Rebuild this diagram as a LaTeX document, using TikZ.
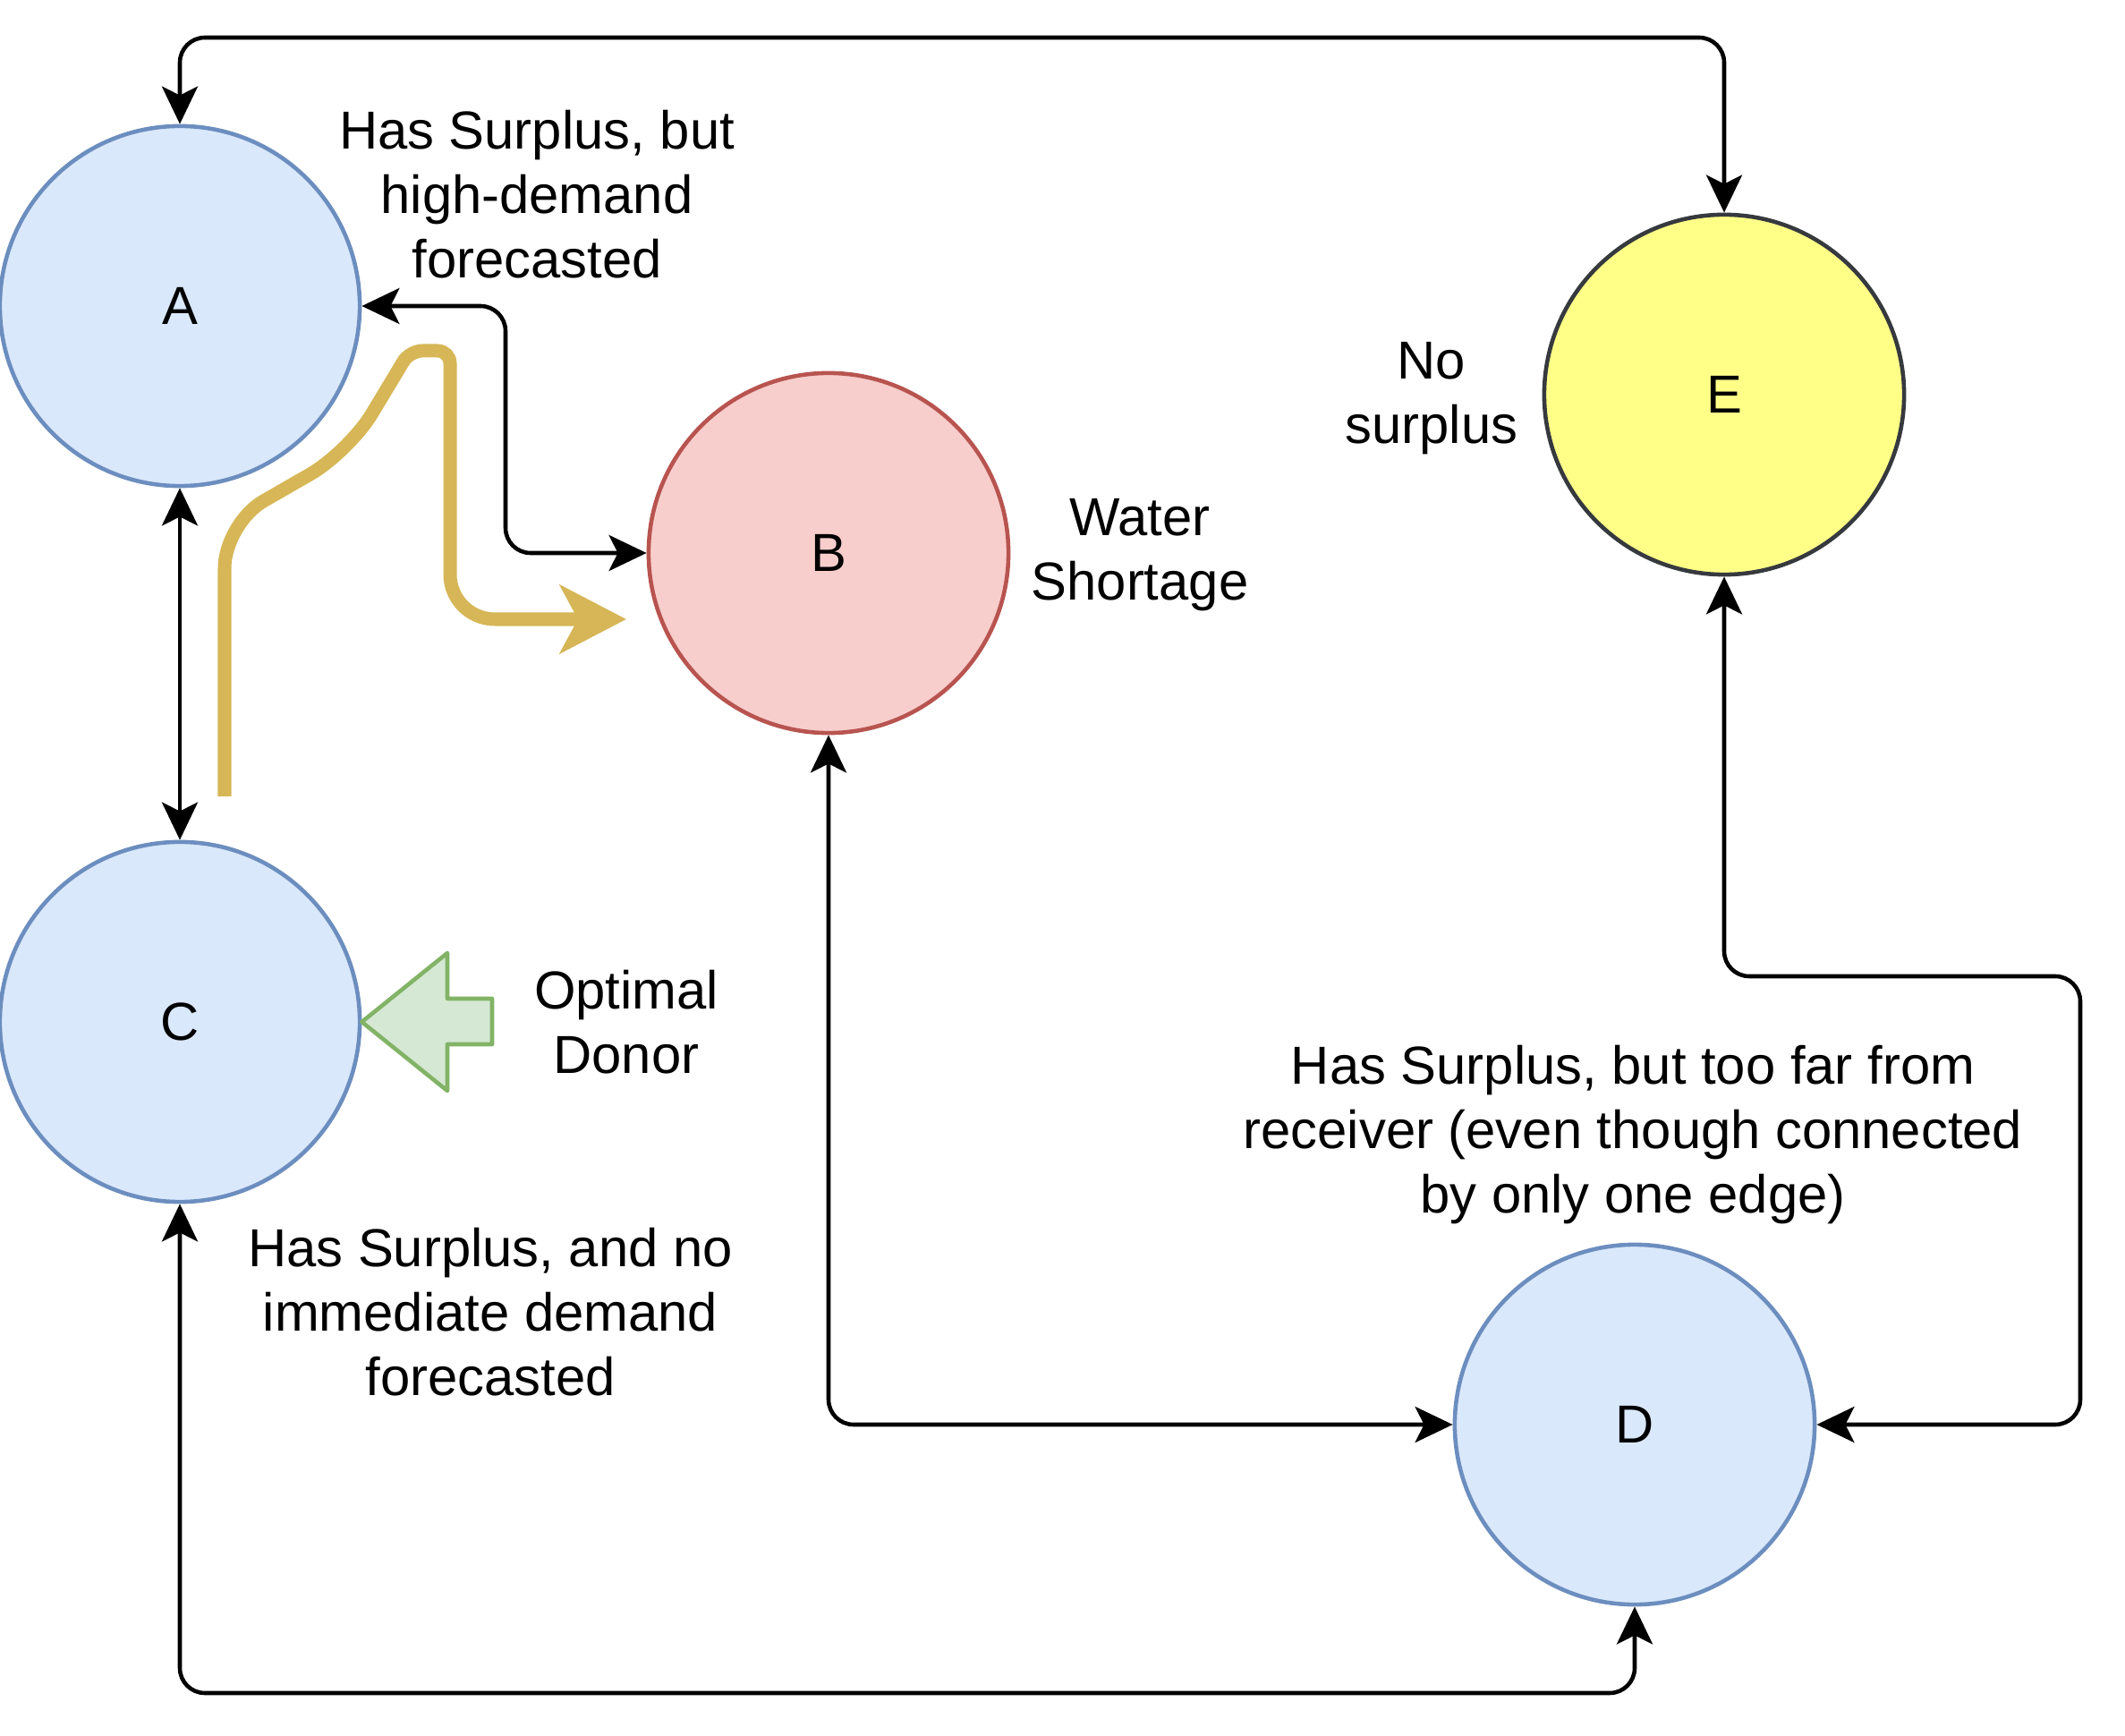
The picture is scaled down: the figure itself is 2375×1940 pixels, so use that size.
\documentclass[tikz,border=0pt]{standalone}
\usepackage{fontspec}
\setmainfont{Liberation Sans}
\usetikzlibrary{arrows.meta,positioning,calc}

\definecolor{surplusfill}{HTML}{DAE8FC}
\definecolor{surplusdraw}{HTML}{6C8EBF}
\definecolor{shortfill}{HTML}{F8CECC}
\definecolor{shortdraw}{HTML}{B85450}
\definecolor{nonefill}{HTML}{FFFF88}
\definecolor{nonedraw}{HTML}{36393D}
\definecolor{donorfill}{HTML}{D5E8D4}
\definecolor{donordraw}{HTML}{82B366}
\definecolor{flowcol}{HTML}{D6B656}

\begin{document}
\begin{tikzpicture}[x=0.01cm,y=-0.01cm,line width=1.3pt,font=\fontsize{17}{20.5}\selectfont,>={Stealth[length=0.42cm,width=0.4cm,inset=0.1cm]}]
\tikzstyle{tank}=[circle,draw,minimum size=4.02cm,inner sep=0pt]
  \tikzstyle{surplus}=[tank,fill=surplusfill,draw=surplusdraw]
  \tikzstyle{pipe}=[<->,rounded corners=0.28cm]
  \tikzstyle{remark}=[align=center,inner sep=0pt]
%
\useasboundingbox (0,0) rectangle (2375,1940);
%
\node[surplus] (A) at (201,342) {A};
  \node[surplus] (C) at (201,1142) {C};
  \node[tank,fill=shortfill,draw=shortdraw] (B) at (926,618) {B};
  \node[tank,fill=nonefill,draw=nonedraw] (E) at (1927,441) {E};
  \node[surplus] (D) at (1827,1592) {D};
%
\node[remark] (labA) at (600,217) {Has Surplus, but\\high-demand\\forecasted};
  \node[remark] (labB) at (1274,620) {Water\\Shortage};
  \node[remark] (labE) at (1600,445) {No\\surplus};
  \node[remark] (labDonor) at (700,1142) {Optimal\\Donor};
  \node[remark] (labC) at (548,1466) {Has Surplus, and no\\immediate demand\\forecasted};
  \node[remark] (labD) at (1825,1268) {Has Surplus, but too far from\\receiver (even though connected\\by only one edge)};

  \draw[pipe] (A.north) -- (A.north |- 0,42) -- (E.north |- 0,42) -- (E.north);
  \draw[pipe] (A.east) -- (A.east -| 565,0) -- (B.west -| 565,0) -- (B.west);
  \draw[pipe] (A.south) -- (C.north);
  \draw[pipe] (C.south) -- (C.south |- 0,1892) -- (D.south |- 0,1892) -- (D.south);
  \draw[pipe] (B.south) |- (D.west);
  \draw[pipe] (E.south) -- (E.south |- 0,1091) -- (2325,1091) -- (D.east -| 2325,0) -- (D.east);
%
\coordinate (flow0) at (251,890);
  \coordinate (flow1) at (700,692);
  \draw[flowcol,line width=0.15cm,-{Stealth[length=0.74cm,width=0.76cm,inset=0.2cm]},rounded corners=0.5cm]
    (flow0) -- (251,585) -- (390,505) [rounded corners=0.14cm] -- (458,392) -- (503,392) [rounded corners=0.5cm] -- (503,692) -- (flow1);
%
\draw[donordraw,fill=donorfill,line join=round] (C.east) -- (500,1065) -- (500,1116) -- (550,1116) -- (550,1167) -- (500,1167) -- (500,1219) -- cycle;
\end{tikzpicture}
\end{document}
